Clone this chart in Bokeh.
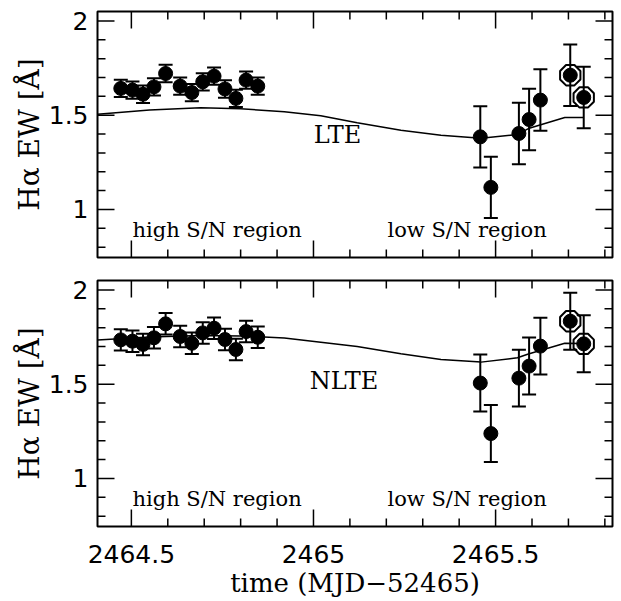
import math
from bokeh.plotting import figure
from bokeh.models import (Range1d, LinearAxis, FixedTicker, ColumnDataSource,
                          Whisker, TeeHead, Label)
from bokeh.layouts import column
from bokeh.embed import file_html
from bokeh.resources import INLINE

# ---------------- data ----------------
t_hi = [2464.471, 2464.503, 2464.532, 2464.562, 2464.594, 2464.634, 2464.666,
        2464.696, 2464.727, 2464.757, 2464.787, 2464.815, 2464.847]
lte_hi = [1.642, 1.633, 1.611, 1.650, 1.721, 1.654, 1.620, 1.677, 1.707, 1.639, 1.589, 1.686, 1.654]
nlte_hi = [1.735, 1.728, 1.711, 1.746, 1.820, 1.753, 1.717, 1.772, 1.797, 1.737, 1.684, 1.779, 1.749]
err_lte_hi = [0.046] * 13
err_nlte_hi = [0.057] * 13

t_lo = [2465.458, 2465.487, 2465.564, 2465.592, 2465.623, 2465.705, 2465.742]
lte_lo = [1.385, 1.117, 1.403, 1.477, 1.580, 1.712, 1.594]
nlte_lo = [1.506, 1.238, 1.532, 1.596, 1.702, 1.834, 1.714]
err_lte_lo = [0.163] * 7
err_nlte_lo = [0.151] * 7
circled = [False, False, False, False, False, True, True]

t_model = [2464.407, 2464.55, 2464.69, 2464.80, 2464.92, 2465.02, 2465.12,
           2465.24, 2465.35, 2465.46, 2465.56, 2465.59, 2465.69, 2465.742]
lte_model = [1.505, 1.527, 1.539, 1.534, 1.518, 1.497, 1.460,
             1.420, 1.394, 1.377, 1.398, 1.429, 1.488, 1.488]
nlte_model = [1.735, 1.750, 1.758, 1.756, 1.745, 1.723, 1.700,
              1.662, 1.631, 1.617, 1.640, 1.660, 1.717, 1.716]

x_major = [2464.5, 2465.0, 2465.5]
x_minor = [2464.6, 2464.7, 2464.8, 2464.9, 2465.1, 2465.2, 2465.3, 2465.4,
           2465.6, 2465.7, 2465.8]
x_tick_labels = {2464.5: "2464.5", 2465: "2465", 2465.5: "2465.5"}
y_major = [1.0, 1.5, 2.0]
y_minor = [0.8, 0.9, 1.1, 1.2, 1.3, 1.4, 1.6, 1.7, 1.8, 1.9]
y_tick_labels = {1: "1", 1.5: "1.5", 2: "2"}

X_RANGE = (2464.407, 2465.821)
Y_RANGE = (0.745, 2.05)

TICK_FONT = "DejaVu Sans"
SERIF = "DejaVu Serif"
MAJ = 17
MIN = 8


def add_ticks(p):
    x0, x1 = X_RANGE
    y0, y1 = Y_RANGE
    for ticks, ln in ((x_major, MAJ), (x_minor, MIN)):
        n = len(ticks)
        p.ray(x=ticks, y=[y0] * n, length=ln, length_units="screen", angle=math.pi / 2,
              line_color="black", line_width=1.5)
        p.ray(x=ticks, y=[y1] * n, length=ln, length_units="screen", angle=-math.pi / 2,
              line_color="black", line_width=1.5)
    for ticks, ln in ((y_major, MAJ), (y_minor, MIN)):
        n = len(ticks)
        p.ray(x=[x0] * n, y=ticks, length=ln, length_units="screen", angle=0,
              line_color="black", line_width=1.5)
        p.ray(x=[x1] * n, y=ticks, length=ln, length_units="screen", angle=math.pi,
              line_color="black", line_width=1.5)


def label_axis(ticks, overrides):
    ax = LinearAxis(ticker=FixedTicker(ticks=ticks, minor_ticks=[]))
    ax.axis_line_color = None
    ax.major_tick_in = 0
    ax.major_tick_out = 0
    ax.minor_tick_in = 0
    ax.minor_tick_out = 0
    ax.major_tick_line_color = None
    ax.minor_tick_line_color = None
    ax.major_label_overrides = overrides
    ax.major_label_text_font = TICK_FONT
    ax.major_label_text_font_size = "25px"
    ax.major_label_text_color = "black"
    return ax


def panel(vals_hi, err_hi, vals_lo, err_lo, model, border_top, border_bottom, show_x):
    p = figure(frame_width=515, frame_height=246,
               x_range=Range1d(*X_RANGE), y_range=Range1d(*Y_RANGE),
               x_axis_location=None, y_axis_location=None,
               output_backend="svg", toolbar_location=None,
               min_border_left=97, min_border_right=4,
               min_border_top=border_top, min_border_bottom=border_bottom,
               background_fill_color="white", border_fill_color="white")
    p.outline_line_color = "black"
    p.outline_line_width = 2
    for g in p.grid:
        g.visible = False

    if show_x:
        bx = label_axis(x_major, x_tick_labels)
        bx.major_label_standoff = 18
        bx.axis_label = "time (MJD\u221252465)"
        bx.axis_label_text_font = SERIF
        bx.axis_label_text_font_size = "26px"
        bx.axis_label_text_font_style = "normal"
        bx.axis_label_text_color = "black"
        bx.axis_label_standoff = 2
        p.add_layout(bx, "below")

    ly = label_axis(y_major, y_tick_labels)
    ly.major_label_standoff = 9
    ly.axis_label = "H\u03b1 EW [\u00c5]"
    ly.axis_label_text_font = SERIF
    ly.axis_label_text_font_size = "28px"
    ly.axis_label_text_font_style = "normal"
    ly.axis_label_text_color = "black"
    ly.axis_label_standoff = 0
    p.add_layout(ly, "left")

    add_ticks(p)

    # model curve
    p.line(t_model, model, line_color="black", line_width=1.5)

    # data with error bars
    t_all = t_hi + t_lo
    v_all = vals_hi + vals_lo
    e_all = err_hi + err_lo
    src = ColumnDataSource(dict(
        t=t_all, v=v_all,
        lo=[v - e for v, e in zip(v_all, e_all)],
        hi=[v + e for v, e in zip(v_all, e_all)]))
    w = Whisker(source=src, base="t", upper="hi", lower="lo", dimension="height",
                line_color="black", line_width=2,
                upper_head=TeeHead(size=14, line_color="black", line_width=2),
                lower_head=TeeHead(size=14, line_color="black", line_width=2))
    p.add_layout(w)
    p.scatter(t_all, v_all, size=14, marker="circle", fill_color="black", line_color="black")

    ct = [t for t, c in zip(t_lo, circled) if c]
    cv = [v for v, c in zip(vals_lo, circled) if c]
    p.ngon(x=ct, y=cv, radius=11, radius_units="screen", n=8, angle=math.pi / 8,
           fill_color=None, line_color="black", line_width=2)
    return p


p1 = panel(lte_hi, err_lte_hi, lte_lo, err_lte_lo, lte_model, 11, 11, False)
p2 = panel(nlte_hi, err_nlte_hi, nlte_lo, err_nlte_lo, nlte_model, 12, 75, True)

p1.add_layout(Label(x=2465.066, y=1.394, text="LTE", text_font=SERIF, text_font_size="24px",
                    text_align="center", text_baseline="middle", text_color="black"))
p2.add_layout(Label(x=2465.084, y=1.515, text="NLTE", text_font=SERIF, text_font_size="24px",
                    text_align="center", text_baseline="middle", text_color="black"))

for p in (p1, p2):
    p.add_layout(Label(x=2464.503, y=0.893, text="high S/N region", text_font=SERIF,
                       text_font_size="21px", text_align="left", text_baseline="alphabetic",
                       text_color="black"))
    p.add_layout(Label(x=2465.203, y=0.893, text="low S/N region", text_font=SERIF,
                       text_font_size="21px", text_align="left", text_baseline="alphabetic",
                       text_color="black"))

layout = column(p1, p2)
open("out.html", "w").write(file_html(layout, INLINE))
